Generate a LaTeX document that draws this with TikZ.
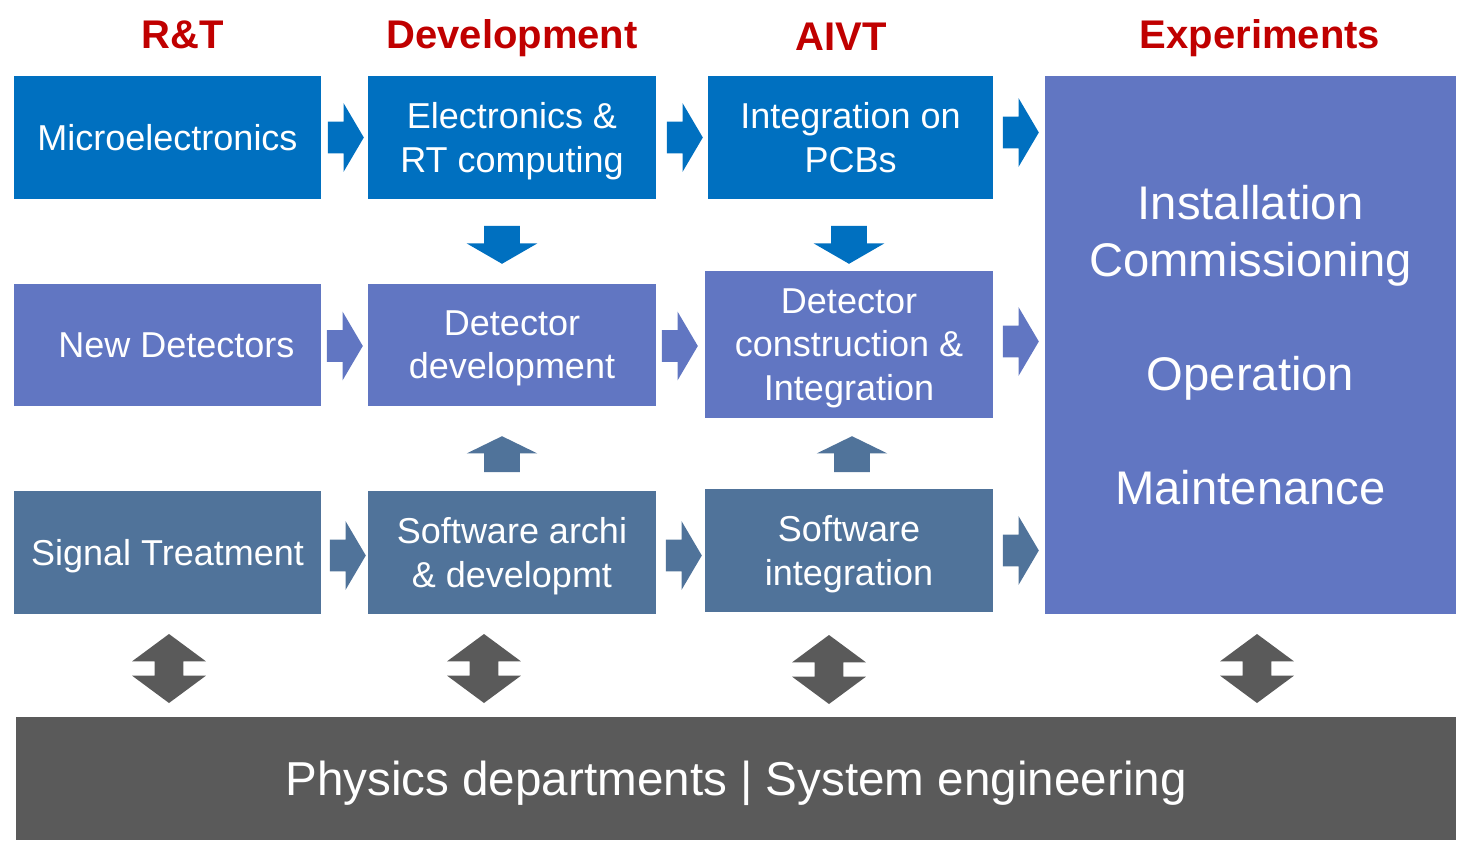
\documentclass[tikz,border=0pt]{standalone}
\usepackage{fontspec}
\setmainfont{Liberation Sans}
\usetikzlibrary{shapes.arrows,calc}

\definecolor{rtblue}{HTML}{0070C0}
\definecolor{detblue}{HTML}{6176C2}
\definecolor{swblue}{HTML}{50739A}
\definecolor{physgray}{HTML}{5A5A5A}
\definecolor{titlered}{HTML}{C00000}

\tikzset{
  box/.style={rectangle, fill=#1, text=white, align=center, inner sep=0pt, text depth=0pt,
    font=\fontsize{18}{21.6}\selectfont},
  title/.style={text=titlered, anchor=base, font=\bfseries\fontsize{20}{24}\selectfont},
  rarr/.style={single arrow, fill=#1, inner xsep=0pt, inner ysep=7.75pt, anchor=tail,
    minimum height=18pt, minimum width=34pt,
    single arrow head extend=9.25pt, single arrow tip angle=119},
  darr/.style={single arrow, fill=rtblue, inner xsep=0pt, inner ysep=8.75pt, anchor=tail,
    rotate=-90, minimum height=19pt, minimum width=35pt,
    single arrow head extend=8.75pt, single arrow tip angle=120},
  uarr/.style={single arrow, fill=swblue, inner xsep=0pt, inner ysep=8.75pt, anchor=tail,
    rotate=90, minimum height=18pt, minimum width=35pt,
    single arrow head extend=8.75pt, single arrow tip angle=128},
  dblarr/.style={double arrow, fill=physgray, inner xsep=0pt, inner ysep=7pt,
    rotate=90, minimum height=34.5pt, minimum width=36.5pt,
    double arrow head extend=11.25pt, double arrow tip angle=107}
}

\begin{document}
\begin{tikzpicture}[x=0.5pt,y=-0.5pt]
    \useasboundingbox (0,0) rectangle (1459,844);

    % column titles
    \node[title] (tRT) at (183,49) {R\&T};
    \node[title] (tDev) at (512,49) {Development};
    \node[title] (tAIVT) at (841,51) {AIVT};
    \node[title] (tExp) at (1260,49) {Experiments};

    % first row
    \node[box=rtblue, minimum width=153.5pt, minimum height=61.5pt] (micro) at (167.5,137.5) {Microelectronics};
    \node[box=rtblue, minimum width=144pt, minimum height=61.5pt] (elec) at (512,137.5) {Electronics \&\\RT computing};
    \node[box=rtblue, minimum width=142.5pt, minimum height=61.5pt] (pcb) at (850.5,137.5) {Integration on\\PCBs};

    % second row
    \node[box=detblue, minimum width=153.5pt, minimum height=61pt] (newdet) at (167.5,345) {\hspace{9pt}New Detectors};
    \node[box=detblue, minimum width=144pt, minimum height=61pt] (detdev) at (512,345) {Detector\\development};
    \node[box=detblue, minimum width=144pt, minimum height=73.5pt] (detcon) at (849,344.5) {Detector\\construction \&\\Integration};

    % third row
    \node[box=swblue, minimum width=153.5pt, minimum height=61.5pt] (sig) at (167.5,552.5) {Signal Treatment};
    \node[box=swblue, minimum width=144pt, minimum height=61.5pt] (swarch) at (512,552.5) {Software archi\\\& developmt};
    \node[box=swblue, minimum width=144pt, minimum height=61.5pt] (swint) at (849,550.5) {Software\\integration};

    % experiments
    \node[box=detblue, minimum width=205.5pt, minimum height=269pt, font=\fontsize{23.6}{28.5}\selectfont] (exp) at (1250.5,345)
      {Installation\\Commissioning\\[28.5pt]Operation\\[28.5pt]Maintenance};

    % bottom bar
    \node[box=physgray, minimum width=720pt, minimum height=61.5pt, font=\fontsize{23.8}{28.6}\selectfont] (phys) at (736,778.5)
      {Physics departments | System engineering};

    % arrows to the right
    \node[rarr=rtblue] (a1) at ($(micro.east)+(6,0)$) {};
    \node[rarr=rtblue] (a2) at ($(elec.east)+(10,0)$) {};
    \node[rarr=rtblue] (a3) at ($(pcb.east)+(9,-5)$) {};
    \node[rarr=detblue] (b1) at ($(newdet.east)+(5,1)$) {};
    \node[rarr=detblue] (b2) at ($(detdev.east)+(5,1)$) {};
    \node[rarr=detblue] (b3) at ($(detcon.east)+(9,-3)$) {};
    \node[rarr=swblue] (c1) at ($(sig.east)+(8,3)$) {};
    \node[rarr=swblue] (c2) at ($(swarch.east)+(9,3)$) {};
    \node[rarr=swblue] (c3) at ($(swint.east)+(9,0)$) {};

    % arrows down and up
    \node[darr] (d1) at ($(elec.south)+(-10,26)$) {};
    \node[darr] (d2) at ($(pcb.south)+(-1.5,26)$) {};
    \node[uarr] (u1) at ($(swarch.north)+(-10,-18)$) {};
    \node[uarr] (u2) at ($(swint.north)+(3,-16)$) {};

    % arrows to the physics departments
    \node[dblarr] (e1) at ($(sig.south)!0.5!(sig.south |- phys.north)+(1.5,3)$) {};
    \node[dblarr] (e2) at ($(swarch.south)!0.5!(swarch.south |- phys.north)+(-28,3)$) {};
    \node[dblarr] (e3) at ($(swint.south)!0.5!(swint.south |- phys.north)+(-20,5)$) {};
    \node[dblarr] (e4) at ($(exp.south)!0.5!(exp.south |- phys.north)+(6.5,3)$) {};
\end{tikzpicture}
\end{document}
